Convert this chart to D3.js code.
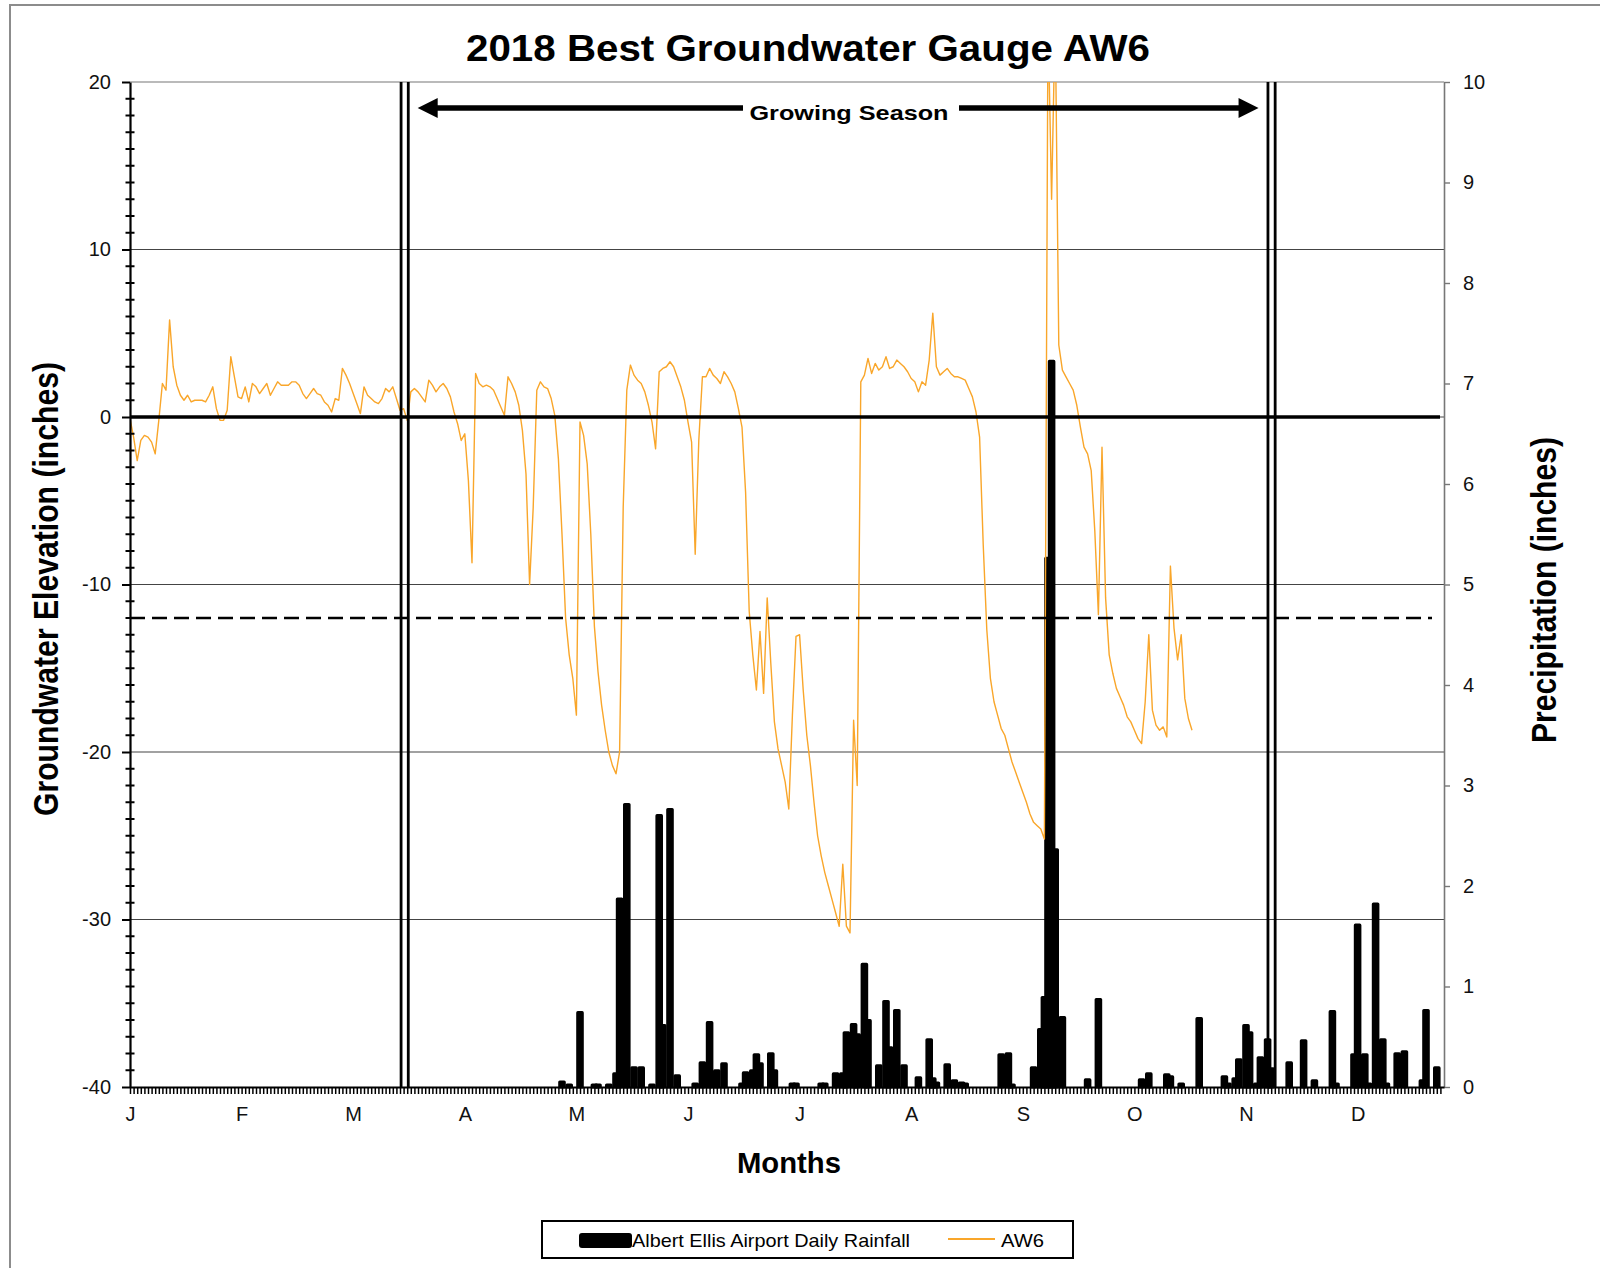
<!DOCTYPE html>
<html>
<head>
<meta charset="utf-8">
<script src="https://cdn.jsdelivr.net/npm/d3@7"></script>
<style>
  body { margin: 0; background: #fff; }
  svg { display: block; font-family: "Liberation Sans", Arial, sans-serif; }
</style>
</head>
<body>
<svg id="chart" width="1600" height="1268"></svg>
<script>
// month initials, one label every 31 days on the category axis
const monthLabels = ['J', 'F', 'M', 'A', 'M', 'J', 'J', 'A', 'S', 'O', 'N', 'D'];

// AW6 groundwater elevation (inches), one value per day from Jan 1
const aw6 = [
  -0.1, -1.2, -2.6, -1.4, -1.1, -1.2, -1.5, -2.2, -0.2, 2.0,
  1.6, 5.8, 3.0, 1.9, 1.3, 1.0, 1.3, 0.9, 1.0, 1.0,
  1.0, 0.9, 1.3, 1.8, 0.5, -0.2, -0.2, 0.4, 3.6, 2.4,
  1.2, 1.1, 1.8, 0.9, 2.0, 1.8, 1.4, 1.7, 2.0, 1.3,
  1.7, 2.1, 1.9, 1.9, 1.9, 2.1, 2.1, 1.9, 1.4, 1.1,
  1.4, 1.7, 1.4, 1.3, 0.9, 0.7, 0.3, 1.1, 1.0, 2.9,
  2.5, 2.0, 1.4, 0.8, 0.2, 1.8, 1.3, 1.1, 0.9, 0.8,
  1.1, 1.7, 1.5, 1.8, 1.1, 0.4, 0.5, -0.2, 1.5, 1.7,
  1.5, 1.2, 0.9, 2.2, 1.9, 1.5, 1.8, 2.0, 1.7, 1.2,
  0.3, -0.4, -1.4, -1.0, -3.8, -8.7, 2.6, 2.0, 1.8, 1.9,
  1.8, 1.6, 1.1, 0.6, 0.1, 2.4, 2.0, 1.5, 0.7, -0.8,
  -3.4, -10.0, -5.4, 1.6, 2.1, 1.8, 1.7, 1.1, 0.1, -2.5,
  -7.0, -12.0, -14.2, -15.6, -17.8, -0.3, -1.1, -2.8, -7.0, -12.5,
  -15.2, -17.2, -18.7, -20.0, -20.8, -21.3, -20.0, -5.4, 1.6, 3.1,
  2.5, 2.2, 2.0, 1.5, 0.7, -0.3, -1.9, 2.7, 2.9, 3.0,
  3.3, 3.0, 2.4, 1.8, 1.0, -0.3, -1.5, -8.2, -1.4, 2.4,
  2.4, 2.9, 2.5, 2.3, 2.0, 2.7, 2.4, 2.0, 1.5, 0.5,
  -0.6, -4.5, -11.6, -14.2, -16.3, -12.8, -16.5, -10.8, -14.7, -18.2,
  -19.8, -20.8, -21.8, -23.4, -17.8, -13.1, -13.0, -16.3, -19.0, -20.8,
  -23.0, -25.0, -26.2, -27.2, -28.0, -28.8, -29.6, -30.4, -26.7, -30.4,
  -30.8, -18.1, -22.0, 2.1, 2.5, 3.5, 2.6, 3.2, 2.8, 3.0,
  3.6, 2.9, 3.0, 3.4, 3.2, 3.0, 2.7, 2.3, 2.1, 1.5,
  2.1, 1.9, 3.4, 6.2, 3.0, 2.5, 2.7, 2.9, 2.6, 2.4,
  2.4, 2.3, 2.2, 1.7, 1.2, 0.3, -1.2, -7.6, -12.7, -15.6,
  -17.0, -17.8, -18.6, -19.0, -19.8, -20.6, -21.2, -21.8, -22.4, -23.0,
  -23.7, -24.2, -24.4, -24.6, -25.2, 24.0, 13.0, 24.0, 4.3, 2.8,
  2.4, 2.0, 1.6, 0.7, -0.6, -1.8, -2.2, -3.2, -6.8, -11.8,
  -1.8, -10.8, -14.2, -15.3, -16.2, -16.7, -17.2, -17.9, -18.2, -18.7,
  -19.2, -19.5, -17.0, -13.0, -17.5, -18.4, -18.7, -18.5, -19.1, -8.9,
  -12.6, -14.5, -13.0, -16.8, -18.0, -18.7
];

// Albert Ellis Airport daily rainfall: day of year and inches
const rainDays = [
  120, 122, 125, 129, 130, 133, 135, 136, 138, 140, 142, 145, 147, 148, 150, 152,
  157, 159, 161, 163, 165, 170, 171, 173, 174, 175, 178, 179, 184, 185, 192, 193,
  196, 198, 199, 201, 202, 204, 205, 208, 210, 211, 213, 215, 219, 222, 223, 224,
  227, 229, 231, 232, 242, 244, 245, 251, 253, 254, 255, 256, 257, 259, 266, 269,
  281, 283, 288, 289, 292, 297, 304, 305, 307, 308, 310, 311, 313, 314, 316, 317,
  322, 326, 329, 334, 335, 340, 341, 343, 344, 346, 348, 349, 352, 354, 359, 360, 363
];
const rainInches = [
  0.05, 0.02, 0.74, 0.02, 0.02, 0.02, 0.13, 1.87, 2.81, 0.19, 0.19, 0.02, 2.70, 0.61, 2.76, 0.11,
  0.03, 0.24, 0.64, 0.16, 0.23, 0.03, 0.14, 0.16, 0.32, 0.23, 0.33, 0.16, 0.03, 0.03, 0.03, 0.03,
  0.13, 0.13, 0.54, 0.62, 0.52, 1.22, 0.66, 0.21, 0.85, 0.39, 0.76, 0.21, 0.09, 0.47, 0.08, 0.04,
  0.22, 0.06, 0.04, 0.03, 0.32, 0.33, 0.02, 0.19, 0.57, 0.89, 5.26, 7.22, 2.36, 0.69, 0.07, 0.87,
  0.07, 0.13, 0.12, 0.10, 0.03, 0.68, 0.10, 0.03, 0.08, 0.27, 0.61, 0.54, 0.03, 0.29, 0.47, 0.18,
  0.24, 0.46, 0.06, 0.75, 0.03, 0.32, 1.61, 0.32, 0.03, 1.82, 0.47, 0.03, 0.33, 0.35, 0.06, 0.76, 0.19
];

// growing season markers (day of year) and the -12 in. reference level
const growingSeason = [76.3, 317.1];
const referenceLevel = -12;

const svg = d3.select('#chart');
const plotLeft = 130, plotRight = 1444, plotTop = 82, plotBottom = 1087;
const font = '"Liberation Sans", Arial, sans-serif';

const x = d3.scaleLinear().domain([0, 365]).range([plotLeft, plotRight]);
const yL = d3.scaleLinear().domain([-40, 20]).range([plotBottom, plotTop]);
const yR = d3.scaleLinear().domain([0, 10]).range([plotBottom, plotTop]);

// outer frame
svg.append('rect')
  .attr('x', 10).attr('y', 5).attr('width', 1620).attr('height', 1300)
  .attr('fill', 'none').attr('stroke', '#8c8c8c').attr('stroke-width', 2);

svg.append('clipPath').attr('id', 'plot-clip')
  .append('rect')
  .attr('x', plotLeft).attr('y', plotTop)
  .attr('width', plotRight - plotLeft).attr('height', plotBottom - plotTop);

// title
svg.append('text')
  .attr('x', 808).attr('y', 61)
  .attr('text-anchor', 'middle')
  .attr('font-size', 36).attr('font-weight', 'bold')
  .attr('textLength', 684).attr('lengthAdjust', 'spacingAndGlyphs')
  .text('2018 Best Groundwater Gauge AW6');

// gridlines
svg.append('g')
  .selectAll('line')
  .data(d3.range(-30, 21, 10))
  .join('line')
  .attr('x1', plotLeft).attr('x2', plotRight)
  .attr('y1', d => yL(d)).attr('y2', d => yL(d))
  .attr('stroke', d => d === 20 ? '#777' : '#444')
  .attr('stroke-width', 1.2);

// rainfall bars (thick outline gives the rounded caps)
const rain = rainDays.map((d, i) => ({ day: d, inches: rainInches[i] }));
svg.append('g')
  .selectAll('rect')
  .data(rain)
  .join('rect')
  .attr('x', d => x(d.day) - 2.2)
  .attr('width', 4.4)
  .attr('y', d => yR(d.inches))
  .attr('height', d => yR(0) - yR(d.inches))
  .attr('fill', '#000')
  .attr('stroke', '#000')
  .attr('stroke-width', 3.2)
  .attr('stroke-linejoin', 'round');

// AW6 line
const line = d3.line()
  .x((d, i) => x(i))
  .y(d => yL(d));

svg.append('path')
  .datum(aw6)
  .attr('clip-path', 'url(#plot-clip)')
  .attr('d', line)
  .attr('fill', 'none')
  .attr('stroke', '#f9a62a')
  .attr('stroke-width', 1.4)
  .attr('stroke-linejoin', 'round');

// heavy zero line
svg.append('line')
  .attr('x1', x(0)).attr('x2', x(365) - 4)
  .attr('y1', yL(0)).attr('y2', yL(0))
  .attr('stroke', '#000').attr('stroke-width', 3.6);

// dashed reference level
svg.append('line')
  .attr('x1', x(0)).attr('x2', x(365) - 12)
  .attr('y1', yL(referenceLevel)).attr('y2', yL(referenceLevel))
  .attr('stroke', '#000').attr('stroke-width', 2.4)
  .attr('stroke-dasharray', '15 7');

// growing season double lines
growingSeason.forEach(d => {
  [-3.6, 3.6].forEach(off => {
    svg.append('line')
      .attr('x1', x(d) + off).attr('x2', x(d) + off)
      .attr('y1', plotTop).attr('y2', plotBottom)
      .attr('stroke', '#000').attr('stroke-width', 2.8);
  });
});

// growing season arrow and label
const arrowY = 108;
const labelX = 849;
const tipL = x(growingSeason[0]) + 13;
const tipR = x(growingSeason[1]) - 13;
const arrow = svg.append('g');
arrow.append('line')
  .attr('x1', tipL + 15).attr('x2', labelX - 106)
  .attr('y1', arrowY).attr('y2', arrowY)
  .attr('stroke', '#000').attr('stroke-width', 5.5);
arrow.append('line')
  .attr('x1', labelX + 110).attr('x2', tipR - 15)
  .attr('y1', arrowY).attr('y2', arrowY)
  .attr('stroke', '#000').attr('stroke-width', 5.5);
arrow.append('path')
  .attr('d', `M${tipL},${arrowY}L${tipL + 20},${arrowY - 10}L${tipL + 20},${arrowY + 10}Z`)
  .attr('fill', '#000');
arrow.append('path')
  .attr('d', `M${tipR},${arrowY}L${tipR - 20},${arrowY - 10}L${tipR - 20},${arrowY + 10}Z`)
  .attr('fill', '#000');
arrow.append('text')
  .attr('x', labelX).attr('y', 120)
  .attr('text-anchor', 'middle')
  .attr('font-size', 21).attr('font-weight', 'bold')
  .attr('textLength', 199).attr('lengthAdjust', 'spacingAndGlyphs')
  .text('Growing Season');

// left axis (plain hyphen for negatives, as in the original)
const axL = svg.append('g')
  .attr('transform', `translate(${plotLeft},0)`)
  .call(d3.axisLeft(yL)
    .tickValues(d3.range(-40, 21, 10))
    .tickFormat(d => String(d))
    .tickSize(8).tickPadding(11).tickSizeOuter(0));
axL.attr('font-family', font);
axL.select('.domain').attr('stroke', '#000').attr('stroke-width', 2.2);
axL.selectAll('.tick line').attr('stroke', '#000').attr('stroke-width', 2);
axL.selectAll('.tick text').attr('font-size', 20).attr('fill', '#111');

svg.append('g')
  .selectAll('line')
  .data(d3.range(-40, 21).filter(v => v % 10 !== 0))
  .join('line')
  .attr('x1', plotLeft - 4.5).attr('x2', plotLeft + 4.5)
  .attr('y1', d => yL(d)).attr('y2', d => yL(d))
  .attr('stroke', '#000').attr('stroke-width', 2);

// right axis
const axR = svg.append('g')
  .attr('transform', `translate(${plotRight},0)`)
  .call(d3.axisRight(yR).ticks(10).tickSize(6).tickPadding(13).tickSizeOuter(0));
axR.attr('font-family', font);
axR.select('.domain').attr('stroke', '#777').attr('stroke-width', 1.6);
axR.selectAll('.tick line').attr('stroke', '#777').attr('stroke-width', 1.4);
axR.selectAll('.tick text').attr('font-size', 20).attr('fill', '#111');

// bottom axis: one tick per day, month initial every 31 days
const axB = svg.append('g')
  .attr('transform', `translate(0,${plotBottom})`)
  .call(d3.axisBottom(x)
    .tickValues(d3.range(0, 365))
    .tickSize(7).tickPadding(13).tickSizeOuter(0)
    .tickFormat(d => d % 31 === 0 ? monthLabels[d / 31] : ''));
axB.attr('font-family', font);
axB.select('.domain').attr('stroke', '#000').attr('stroke-width', 2.2);
axB.selectAll('.tick line').attr('stroke', '#000').attr('stroke-width', 1.5);
axB.selectAll('.tick text').attr('font-size', 20).attr('fill', '#111');

// axis titles
svg.append('text')
  .attr('transform', 'translate(58,589) scale(1.2,1) rotate(-90)')
  .attr('text-anchor', 'middle')
  .attr('font-size', 29).attr('font-weight', 'bold')
  .attr('textLength', 454).attr('lengthAdjust', 'spacingAndGlyphs')
  .text('Groundwater Elevation (inches)');

svg.append('text')
  .attr('transform', 'translate(1556,590) scale(1.2,1) rotate(-90)')
  .attr('text-anchor', 'middle')
  .attr('font-size', 29).attr('font-weight', 'bold')
  .attr('textLength', 306).attr('lengthAdjust', 'spacingAndGlyphs')
  .text('Precipitation (inches)');

svg.append('text')
  .attr('x', 789).attr('y', 1173)
  .attr('text-anchor', 'middle')
  .attr('font-size', 29).attr('font-weight', 'bold')
  .attr('textLength', 104).attr('lengthAdjust', 'spacingAndGlyphs')
  .text('Months');

// legend
const legend = svg.append('g');
legend.append('rect')
  .attr('x', 542).attr('y', 1221).attr('width', 531).attr('height', 37)
  .attr('fill', '#fff').attr('stroke', '#000').attr('stroke-width', 2);
legend.append('rect')
  .attr('x', 579).attr('y', 1233).attr('width', 53).attr('height', 15).attr('rx', 3)
  .attr('fill', '#000');
legend.append('text')
  .attr('x', 632).attr('y', 1247)
  .attr('font-size', 19)
  .attr('textLength', 278).attr('lengthAdjust', 'spacingAndGlyphs')
  .text('Albert Ellis Airport Daily Rainfall');
legend.append('line')
  .attr('x1', 948).attr('x2', 995).attr('y1', 1239).attr('y2', 1239)
  .attr('stroke', '#f9a62a').attr('stroke-width', 2);
legend.append('text')
  .attr('x', 1001).attr('y', 1247)
  .attr('font-size', 19)
  .attr('textLength', 43).attr('lengthAdjust', 'spacingAndGlyphs')
  .text('AW6');
</script>
</body>
</html>
